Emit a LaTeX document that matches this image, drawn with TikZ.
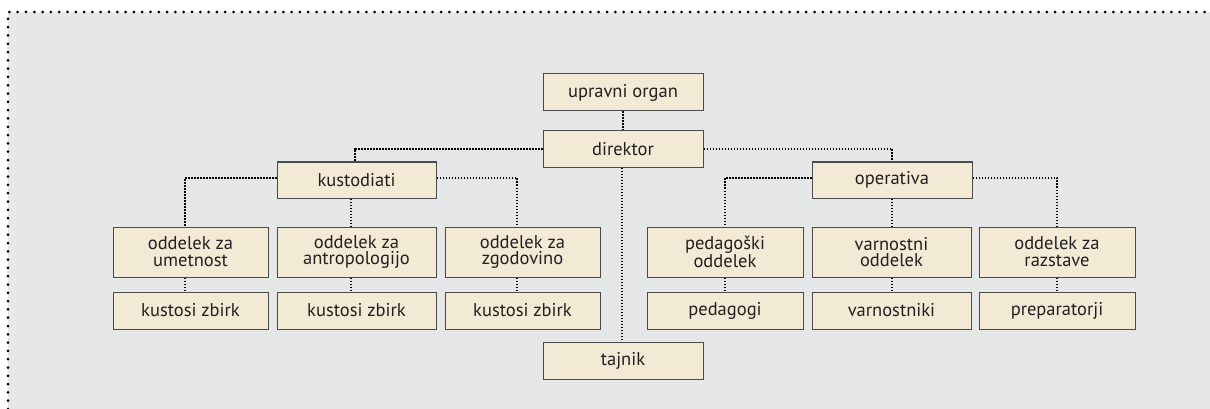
\documentclass[tikz,border=0pt]{standalone}
\usepackage{fontspec}
\setmainfont{PT Sans}
\begin{document}
\begin{tikzpicture}[x=1pt,y=-1pt,
  box/.style={draw=boxline,fill=boxfill,line width=1pt,inner sep=0pt,align=center,
    minimum width=157pt,minimum height=37pt,font=\fontsize{18.5}{16.8}\selectfont,text=textcol},
  tall/.style={minimum height=50pt},
  conn/.style={draw=black,line width=2pt,dash pattern=on 1.6pt off 1.4pt},
  frame/.style={draw=black,line width=3pt,line cap=round,dash pattern=on 0pt off 8.3pt}]
\definecolor{bg}{HTML}{E6E7E9}
\definecolor{boxfill}{HTML}{F3EAD6}
\definecolor{boxline}{HTML}{4A4A4A}
\definecolor{textcol}{HTML}{231F20}
\useasboundingbox (0,0) rectangle (1210,409);
\fill[bg] (8,12) rectangle (1210,409);
\coordinate (fl) at (8,409);
\coordinate (fc) at (8,12);
\coordinate (fr) at (1210,12);
\path[frame] (fl) -- (fc) -- (fr);

\node[box,minimum width=160pt] (upr) at (623,92.5) {upravni organ};
\node[box,minimum width=160pt,minimum height=36pt] (dir) at (623,149) {direktor};
\node[box,minimum width=159pt,minimum height=36pt] (kus) at (356.5,180) {kustodiati};
\node[box,minimum width=160pt,minimum height=36pt] (ope) at (892,180) {operativa};
\node[box,tall,minimum width=155pt] (umet) at (190.5,252) {oddelek za\\umetnost};
\node[box,tall,minimum width=159pt] (antr) at (356.5,252) {oddelek za\\antropologijo};
\node[box,tall,minimum width=155pt] (zgod) at (522.5,252) {oddelek za\\zgodovino};
\node[box,tall,minimum width=156pt] (ped) at (725,252) {pedagoški\\oddelek};
\node[box,tall,minimum width=159pt] (varn) at (891.5,252) {varnostni\\oddelek};
\node[box,tall,minimum width=156pt] (razs) at (1057,252) {oddelek za\\razstave};
\node[box,minimum width=155pt] (k1) at (190.5,310.5) {kustosi zbirk};
\node[box,minimum width=159pt] (k2) at (356.5,310.5) {kustosi zbirk};
\node[box,minimum width=155pt] (k3) at (522.5,310.5) {kustosi zbirk};
\node[box,minimum width=156pt] (pg) at (725,310.5) {pedagogi};
\node[box,minimum width=159pt] (vn) at (891.5,310.5) {varnostniki};
\node[box,minimum width=156pt] (pr) at (1057,310.5) {preparatorji};
\node[box,minimum width=160pt] (taj) at (623,360.5) {tajnik};

\path[conn] (upr.south) -- (dir.north);
\path[conn] ([xshift=-1pt]dir.south) -- ([xshift=-1pt]taj.north);
\path[conn] (dir.west) -| ([xshift=-1.5pt]kus.north);
\path[conn] (dir.east) -| (ope.north);
\path[conn] ([yshift=2pt]kus.west) -| ([xshift=-6pt]umet.north);
\path[conn] ([xshift=-5.5pt]kus.south) -- ([xshift=-5.5pt]antr.north);
\path[conn] ([yshift=2pt]kus.east) -| ([xshift=-5.5pt]zgod.north);
\path[conn] ([yshift=2pt]ope.west) -| (ped.north);
\path[conn] (ope.south) -- ([xshift=0.5pt]varn.north);
\path[conn] ([yshift=2pt]ope.east) -| (razs.north);
\path[conn] ([xshift=-6pt]umet.south) -- ([xshift=-6pt]k1.north);
\path[conn] ([xshift=-5.5pt]antr.south) -- ([xshift=-5.5pt]k2.north);
\path[conn] ([xshift=-5.5pt]zgod.south) -- ([xshift=-5.5pt]k3.north);
\path[conn] (ped.south) -- (pg.north);
\path[conn] (varn.south) -- (vn.north);
\path[conn] (razs.south) -- (pr.north);
\end{tikzpicture}
\end{document}
